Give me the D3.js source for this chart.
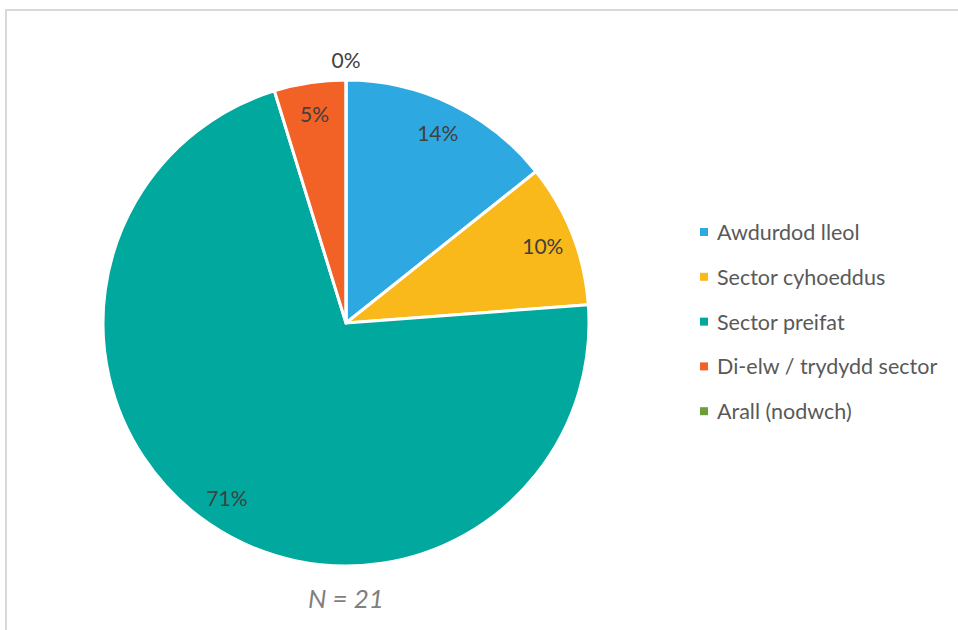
<!DOCTYPE html>
<html><head><meta charset="utf-8">
<script src="https://cdn.jsdelivr.net/npm/d3@7"></script>
<style>body{margin:0;background:#fff}svg{display:block}</style>
</head><body>
<script>
const categories = ["Awdurdod lleol","Sector cyhoeddus","Sector preifat","Di-elw / trydydd sector","Arall (nodwch)"];
const counts = [3, 2, 15, 1, 0];
const percentLabels = ["14%","10%","71%","5%","0%"];
const colors = ["#2EA8E0","#F9B91A","#00A89D","#F26125","#6E9E3A"];
const nLabel = "N = 21";

const W = 958, H = 630;
const svg = d3.select("body").append("svg").attr("width", W).attr("height", H);
const font = "Lato, 'Open Sans', sans-serif";

// chart border (top and left visible)
svg.append("path").attr("d", `M6,${H} L6,10 L${W},10`).attr("fill","none").attr("stroke","#d9d9d9").attr("stroke-width",2);

const cx = 346, cy = 323, R = 243;
const pie = d3.pie().sort(null).value(d => d).startAngle(0).endAngle(2*Math.PI);
const arcs = pie(counts);
const arc = d3.arc().innerRadius(0).outerRadius(R);
const g = svg.append("g").attr("transform", `translate(${cx},${cy})`);
g.selectAll("path.slice").data(arcs).join("path").attr("class","slice")
  .attr("d", arc).attr("fill", (d,i) => colors[i])
  .attr("stroke","#fff").attr("stroke-width",3).attr("stroke-linejoin","round");

g.selectAll("text.lbl").data(arcs).join("text").attr("class","lbl")
  .attr("transform", (d,i) => {
    const a = (d.startAngle + d.endAngle)/2;
    const r = d.value === 0 ? R + 21 : R * 0.87;
    return `translate(${r*Math.sin(a)},${-r*Math.cos(a)})`;
  })
  .attr("text-anchor","middle").attr("dominant-baseline","central")
  .attr("font-family", font).attr("font-size", 21).attr("fill","#404040")
  .text((d,i) => percentLabels[i]);

// legend
const leg = svg.append("g").attr("transform","translate(700,232)");
const rows = leg.selectAll("g").data(categories).join("g").attr("transform",(d,i)=>`translate(0,${i*44.8})`);
rows.append("rect").attr("x",0).attr("y",-4).attr("width",8).attr("height",8).attr("fill",(d,i)=>colors[i]);
rows.append("text").attr("x",17).attr("y",0).attr("dominant-baseline","central")
  .attr("font-family",font).attr("font-size",21.5).attr("fill","#595959").text(d=>d);

svg.append("text").attr("x",cx).attr("y",598).attr("text-anchor","middle").attr("dominant-baseline","central")
  .attr("font-family",font).attr("font-size",26).attr("font-style","italic").attr("fill","#7f7f7f").text(nLabel);
</script>
</body></html>
